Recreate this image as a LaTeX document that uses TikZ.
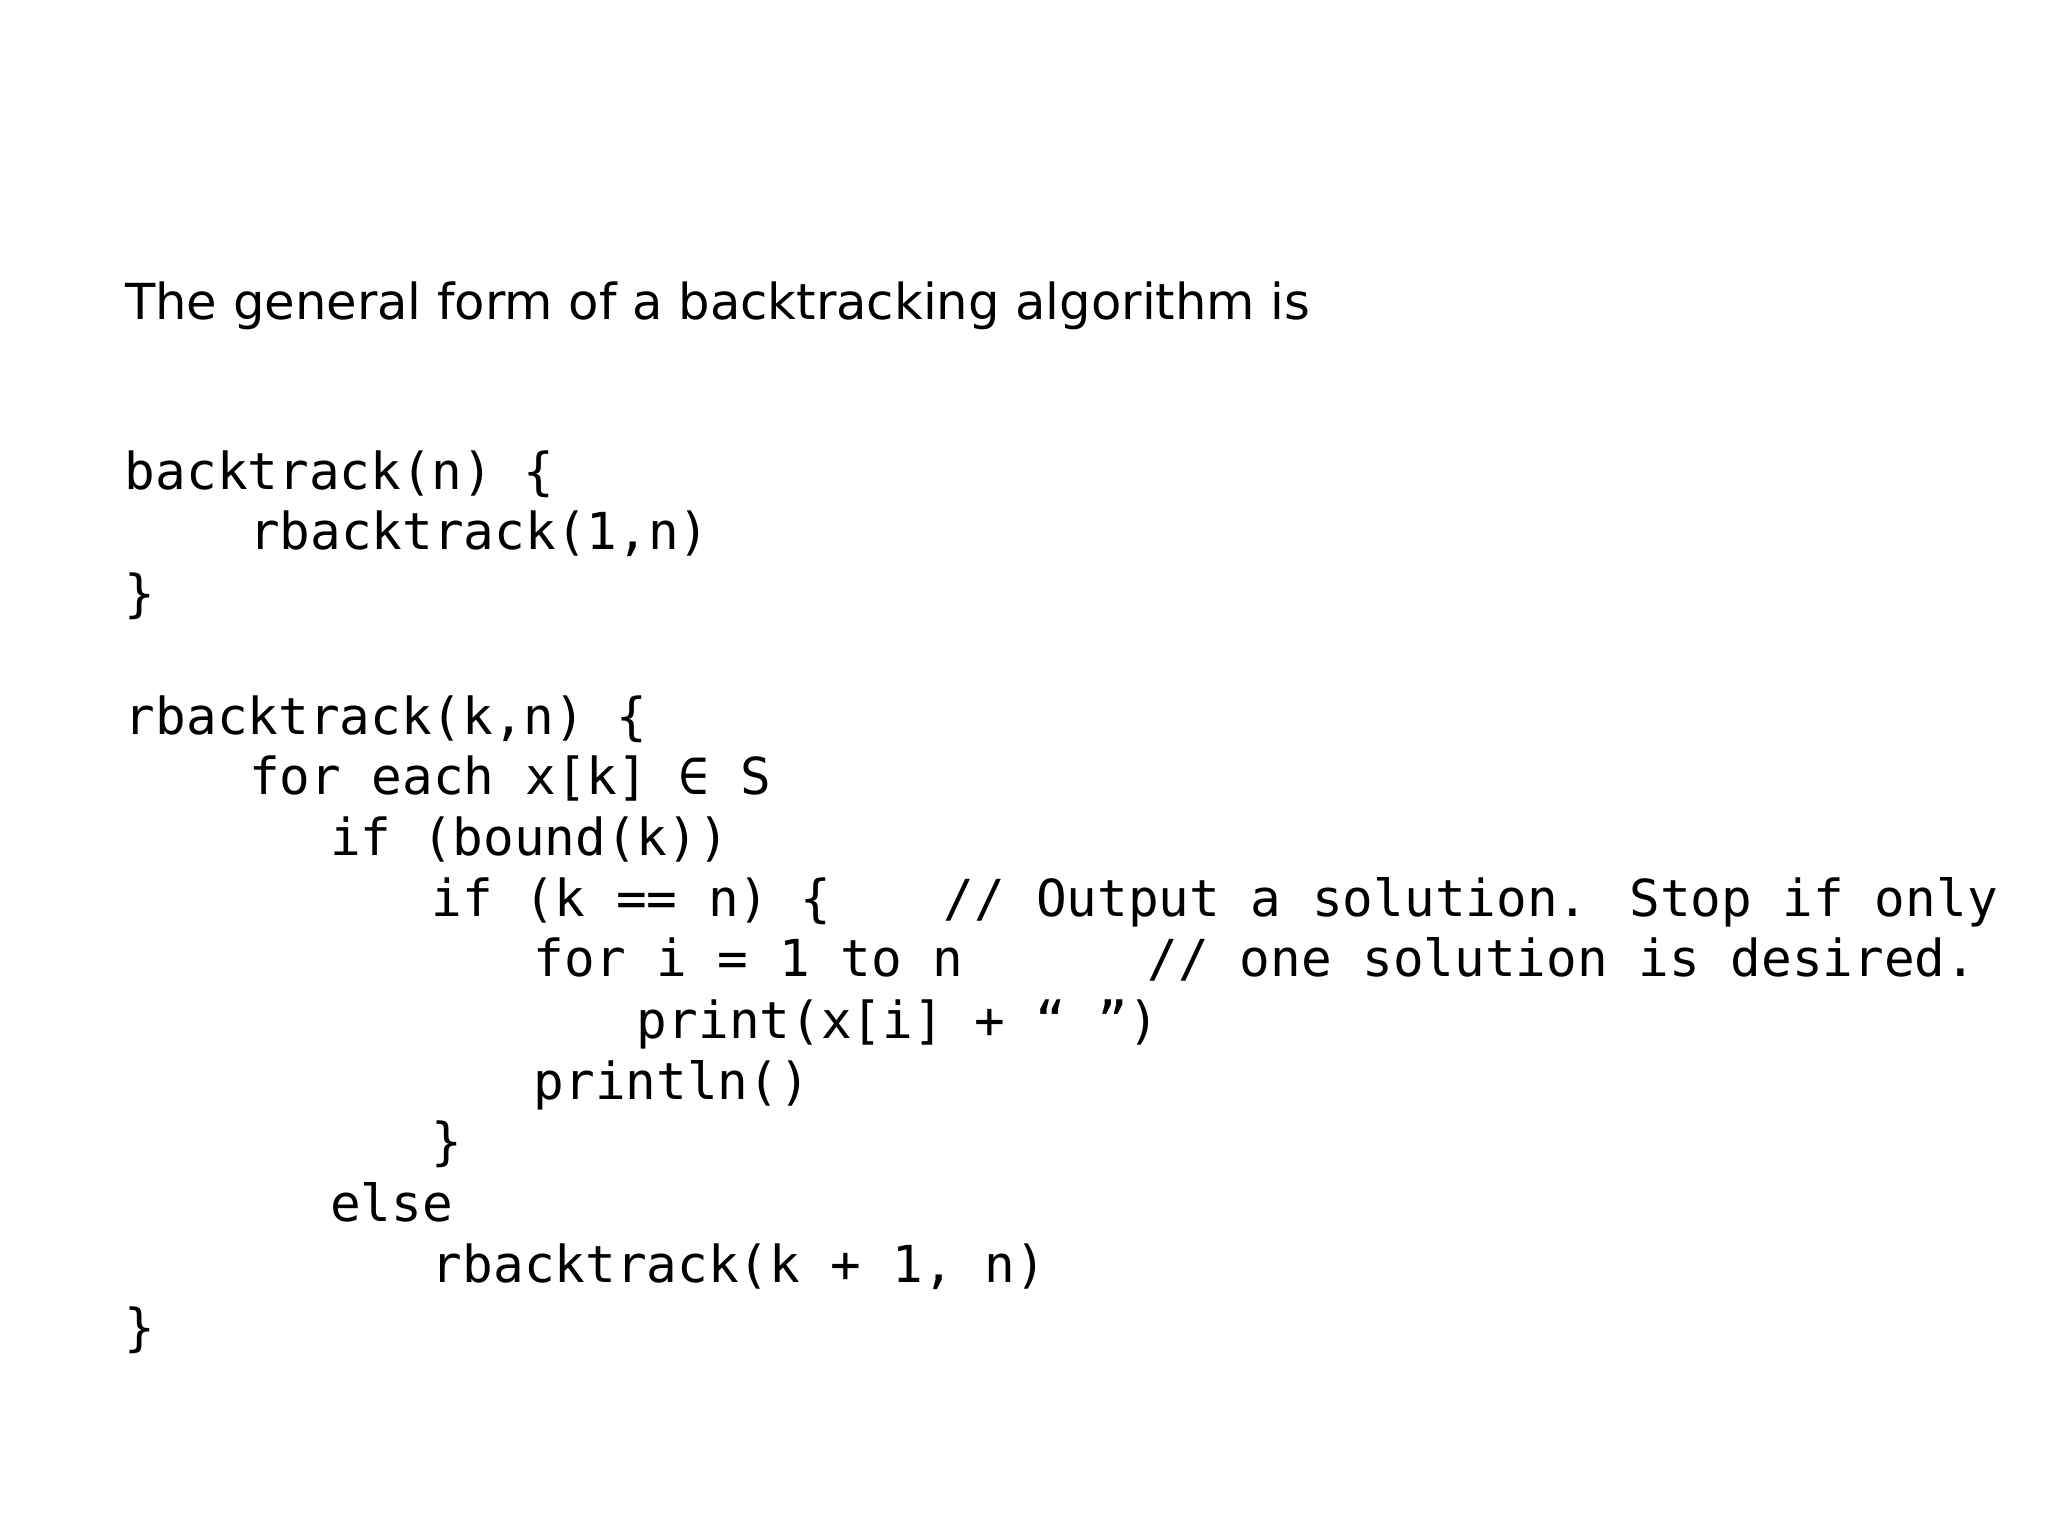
\documentclass[tikz,border=0pt]{standalone}
\usepackage{fontspec}
\setmainfont{DejaVu Sans}
\newfontfamily\codefont{DejaVu Sans Mono}
\begin{document}
\begin{tikzpicture}[x=0.01cm,y=-0.01cm,
  code/.style={anchor=base west,inner sep=0pt,font=\codefont\fontsize{11.1pt}{13pt}\selectfont},
  ttl/.style={anchor=base west,inner sep=0pt}]
\useasboundingbox (0,0) rectangle (1568,1176);
\node[ttl] (t) at (95,245) {\resizebox{9.07cm}{!}{The general form of a backtracking algorithm is}};
\node[code] (l1) at (95,375) {backtrack(n) \{};
\node[code] (l2) at (190,421) {rbacktrack(1,n)};
\node[code] (l3) at (95,468) {\}};
\node[code] (l4) at (95,562) {rbacktrack(k,n) \{};
\node[code] (l5) at (190,608) {for each x[k] ∈ S};
\node[code] (l6) at (252,655) {if (bound(k))};
\node[code] (l7) at (330,702) {if (k == n) \{};
\node[code] (c1) at (722,702) {// Output a solution. Stop if only};
\node[code] (l8) at (408,748) {for i = 1 to n};
\node[code] (c2) at (878,748) {// one solution is desired.};
\node[code] (l9) at (487,795) {print(x[i] + “ ”)};
\node[code] (l10) at (408,842) {println()};
\node[code] (l11) at (330,888) {\}};
\node[code] (l12) at (252,935) {else};
\node[code] (l13) at (330,982) {rbacktrack(k + 1, n)};
\node[code] (l14) at (95,1030) {\}};
\end{tikzpicture}
\end{document}
